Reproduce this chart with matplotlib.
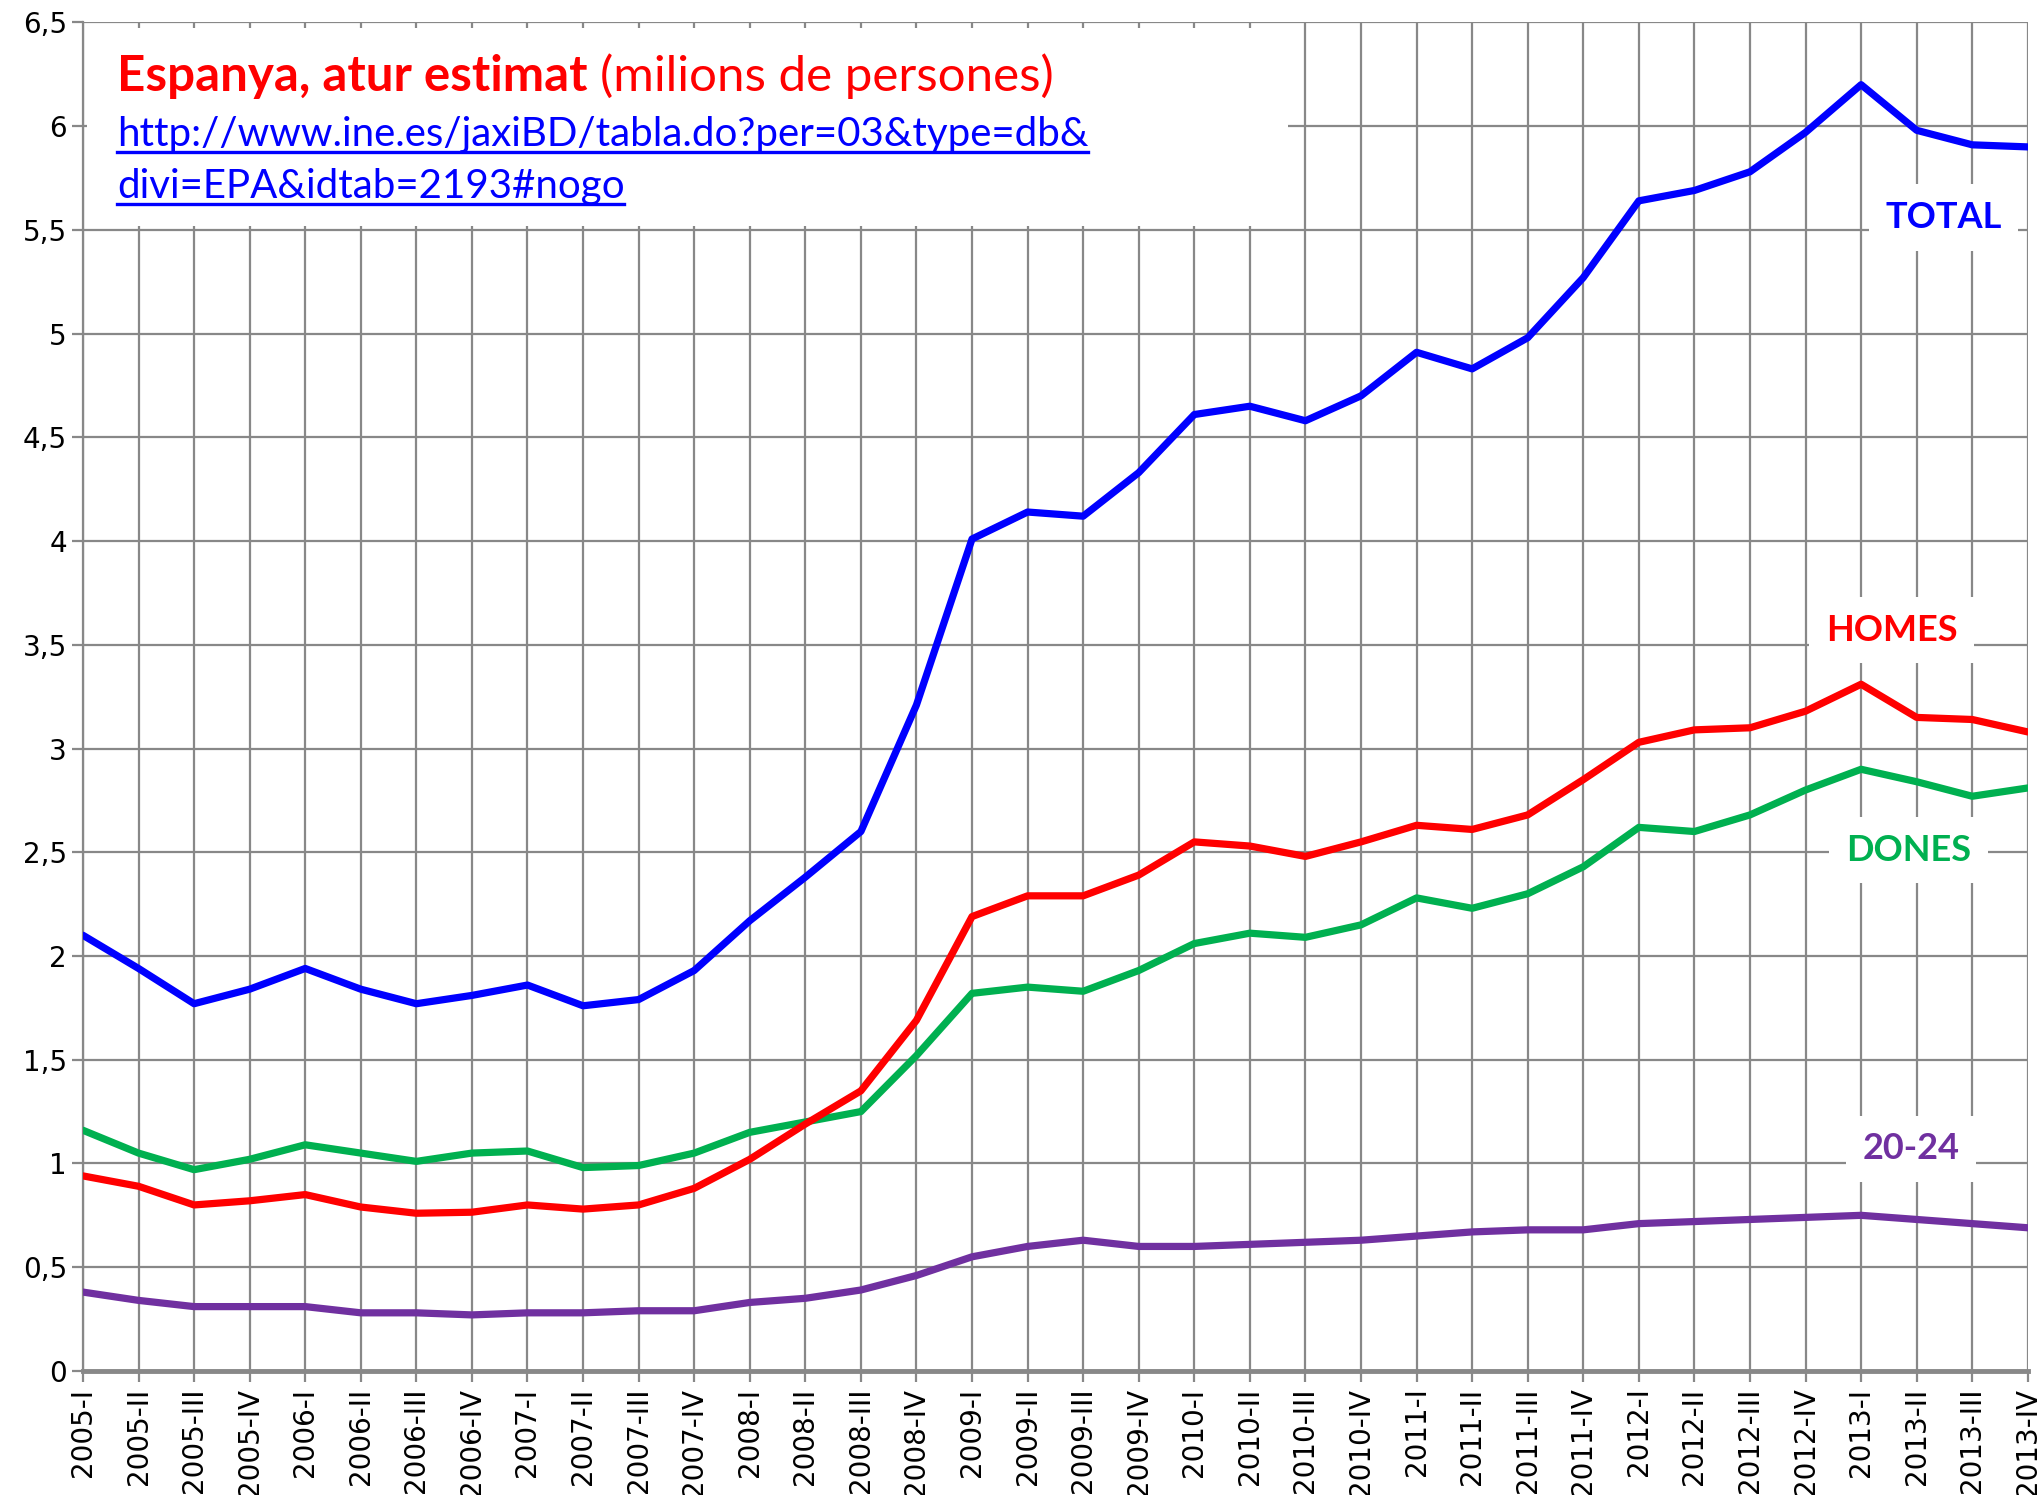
import numpy as np
import matplotlib
matplotlib.use("Agg")
import matplotlib.pyplot as plt
from matplotlib.patches import Rectangle
from matplotlib.ticker import FuncFormatter

quarters = []
for year in range(2005, 2014):
    for q in ["I", "II", "III", "IV"]:
        quarters.append(f"{year}-{q}")

total = [2.10, 1.94, 1.77, 1.84, 1.94, 1.84, 1.77, 1.81, 1.86, 1.76, 1.79, 1.93,
         2.17, 2.38, 2.60, 3.21, 4.01, 4.14, 4.12, 4.33, 4.61, 4.65, 4.58, 4.70,
         4.91, 4.83, 4.98, 5.27, 5.64, 5.69, 5.78, 5.97, 6.20, 5.98, 5.91, 5.90]
homes = [0.94, 0.89, 0.80, 0.82, 0.85, 0.79, 0.76, 0.765, 0.80, 0.78, 0.80, 0.88,
         1.02, 1.19, 1.35, 1.69, 2.19, 2.29, 2.29, 2.39, 2.55, 2.53, 2.48, 2.55,
         2.63, 2.61, 2.68, 2.85, 3.03, 3.09, 3.10, 3.18, 3.31, 3.15, 3.14, 3.08]
dones = [1.16, 1.05, 0.97, 1.02, 1.09, 1.05, 1.01, 1.05, 1.06, 0.98, 0.99, 1.05,
         1.15, 1.20, 1.25, 1.52, 1.82, 1.85, 1.83, 1.93, 2.06, 2.11, 2.09, 2.15,
         2.28, 2.23, 2.30, 2.43, 2.62, 2.60, 2.68, 2.80, 2.90, 2.84, 2.77, 2.81]
joves = [0.38, 0.34, 0.31, 0.31, 0.31, 0.28, 0.28, 0.27, 0.28, 0.28, 0.29, 0.29,
         0.33, 0.35, 0.39, 0.46, 0.55, 0.60, 0.63, 0.60, 0.60, 0.61, 0.62, 0.63,
         0.65, 0.67, 0.68, 0.68, 0.71, 0.72, 0.73, 0.74, 0.75, 0.73, 0.71, 0.69]

blue = "#0000FF"
red = "#FF0000"
green = "#00B050"
purple = "#7030A0"
gridc = "#888888"

fig = plt.figure(figsize=(20.38, 14.95), dpi=100)
ax = fig.add_axes([0.0407, 0.083, 0.9543, 0.902])

x = np.arange(len(quarters))
for vals, col in [(joves, purple), (dones, green), (homes, red), (total, blue)]:
    ax.plot(x, vals, color=col, lw=5.2, zorder=3, solid_capstyle="round")

ax.set_xlim(0, len(quarters) - 1)
ax.set_ylim(0, 6.5)
ax.set_yticks(np.arange(0, 6.51, 0.5))
ax.yaxis.set_major_formatter(FuncFormatter(lambda v, p: f"{v:g}".replace(".", ",")))
ax.set_xticks(x)
ax.set_xticklabels(quarters, rotation=90)
ax.set_axisbelow(True)
ax.grid(True, color=gridc, lw=1.6)
ax.tick_params(axis="both", colors=gridc, width=1.6, length=8, labelcolor="black")
ax.tick_params(axis="x", labelsize=20, pad=4)
ax.tick_params(axis="y", labelsize=20)
for s in ["top", "right"]:
    ax.spines[s].set_visible(False)
ax.spines["left"].set_color(gridc)
ax.spines["left"].set_linewidth(1.6)
ax.spines["bottom"].set_color(gridc)
ax.spines["bottom"].set_linewidth(3.5)

# caixa del titol
ax.add_patch(Rectangle((0.08, 5.52), 21.6, 0.955, facecolor="white",
                       edgecolor="none", zorder=1.5))

font = "Lato"
t1 = ax.text(0.61, 6.24, "Espanya, atur estimat", color=red, fontsize=35.5,
             fontweight="bold", family=font, va="center", ha="left", zorder=4)
fig.canvas.draw()
r = fig.canvas.get_renderer()
bb = t1.get_window_extent(r)
x_end = ax.transData.inverted().transform((bb.x1, bb.y0))[0]
ax.text(x_end + 0.22, 6.24, "(milions de persones)", color=red, fontsize=35.5,
        family=font, va="center", ha="left", zorder=4)

url_lines = ["http://www.ine.es/jaxiBD/tabla.do?per=03&type=db&",
             "divi=EPA&idtab=2193#nogo"]
for line, yy in zip(url_lines, [5.96, 5.71]):
    t = ax.text(0.61, yy, line, color=blue, fontsize=29, family=font,
                va="center", ha="left", zorder=4)
    fig.canvas.draw()
    b = t.get_window_extent(fig.canvas.get_renderer())
    inv = fig.transFigure.inverted()
    (fx0, fy0) = inv.transform((b.x0, b.y0 + 1))
    (fx1, _) = inv.transform((b.x1, b.y0))
    fig.add_artist(plt.Line2D([fx0, fx1], [fy0, fy0], color=blue, lw=2.4,
                              zorder=5))

labels = [("TOTAL", blue, 33.48, 5.56), ("HOMES", red, 32.55, 3.57),
          ("DONES", green, 32.85, 2.51), ("20-24", purple, 32.9, 1.07)]
for txt, col, lx, ly in labels:
    ax.text(lx, ly, txt, color=col, fontsize=26, fontweight="bold", family=font,
            ha="center", va="center", zorder=4,
            bbox=dict(facecolor="white", edgecolor="none", pad=12))

fig.savefig("out.png", dpi=100)
